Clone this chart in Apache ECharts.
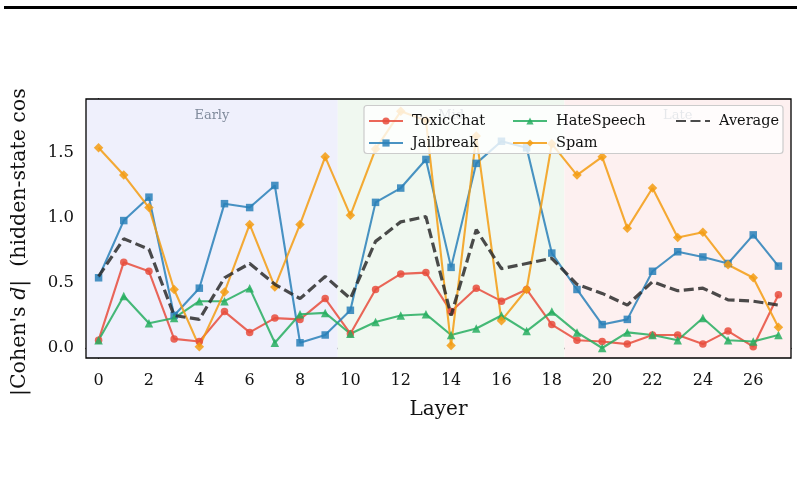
<!DOCTYPE html>
<html>
<head>
<meta charset="utf-8">
<script src="https://cdn.jsdelivr.net/npm/echarts@6/dist/echarts.min.js"></script>
<style>
  html, body { margin: 0; padding: 0; background: #fff; }
  #chart { width: 804px; height: 477px; }
</style>
</head>
<body>
<div id="chart"></div>
<script>
// ---- data ----
const layers = Array.from({length: 28}, (_, i) => String(i));
const toxicChat  = [0.06,0.66,0.59,0.07,0.05,0.28,0.12,0.23,0.22,0.38,0.11,0.45,0.57,0.58,0.28,0.46,0.36,0.45,0.18,0.06,0.05,0.03,0.10,0.10,0.03,0.13,0.01,0.41];
const jailbreak  = [0.54,0.98,1.16,0.25,0.46,1.11,1.08,1.25,0.04,0.10,0.29,1.12,1.23,1.45,0.62,1.42,1.59,1.54,0.73,0.45,0.18,0.22,0.59,0.74,0.70,0.65,0.87,0.63];
const hateSpeech = [0.06,0.40,0.19,0.23,0.36,0.36,0.46,0.04,0.26,0.27,0.11,0.20,0.25,0.26,0.10,0.15,0.25,0.13,0.28,0.12,0.00,0.12,0.10,0.06,0.23,0.06,0.05,0.10];
const spam       = [1.54,1.33,1.08,0.45,0.01,0.43,0.95,0.47,0.95,1.47,1.02,1.53,1.82,1.75,0.02,1.63,0.21,0.45,1.57,1.33,1.47,0.92,1.23,0.85,0.89,0.64,0.54,0.16];
const average    = [0.55,0.84,0.76,0.25,0.22,0.54,0.65,0.49,0.38,0.55,0.38,0.82,0.97,1.01,0.25,0.91,0.61,0.65,0.69,0.49,0.42,0.33,0.51,0.44,0.46,0.37,0.36,0.33];
const bands = [
  {name: 'Early', from: -0.5, to: 9.5},
  {name: 'Mid',   from: 9.5,  to: 18.5},
  {name: 'Late',  from: 18.5, to: 27.5}
];
// ---- styles ----
const FONT = '"DejaVu Serif", serif';
const bandColors = ['#eff0fc', '#f0f8f0', '#fdf0f0'];
const AVG_COLOR = '#2b2b2b';
const seriesDefs = [
  {name: 'ToxicChat',  data: toxicChat,  color: '#e74c3c', symbol: 'circle',   size: 7.5},
  {name: 'Jailbreak',  data: jailbreak,  color: '#2980b9', symbol: 'rect',     size: 7.5},
  {name: 'HateSpeech', data: hateSpeech, color: '#27ae60', symbol: 'triangle', size: 8.5},
  {name: 'Spam',       data: spam,       color: '#f39c12', symbol: 'diamond',  size: 9.5}
];

const G = {left: 86, top: 99, right: 13, bottom: 119};

const series = seriesDefs.map(d => ({
  name: d.name, type: 'line', data: d.data,
  symbol: d.symbol, symbolSize: d.size, showSymbol: true,
  lineStyle: {color: d.color, width: 2.1, opacity: 0.85},
  itemStyle: {color: d.color, opacity: 0.85},
  z: 3, animation: false
}));
series.push({
  name: 'Average', type: 'line', data: average, symbol: 'none',
  lineStyle: {color: AVG_COLOR, width: 3.2, type: [10, 4.5], opacity: 0.85},
  itemStyle: {color: AVG_COLOR},
  z: 4, animation: false
});
series.push({
  name: 'bands', type: 'line', xAxisIndex: 1, data: [], silent: true, z: 1,
  markArea: {
    silent: true,
    label: {show: true, position: 'insideTop', distance: 10, color: '#808b9c',
            fontFamily: FONT, fontSize: 13},
    data: bands.map((b, i) => [
      {name: b.name, xAxis: b.from, itemStyle: {color: bandColors[i]}},
      {xAxis: b.to}
    ])
  },
  animation: false
});

const colorOf = {};
seriesDefs.forEach(d => { colorOf[d.name] = d.color; });
colorOf['Average'] = AVG_COLOR;

const legendCols = [368, 512, 675];
const legendRowCenters = [118, 140];
const legendLayout = [
  ['ToxicChat', 0, 0], ['Jailbreak', 0, 1], ['HateSpeech', 1, 0], ['Spam', 1, 1], ['Average', 2, 0]
];
const legends = legendLayout.map(([n, c, r]) => ({
  data: [n], left: legendCols[c], top: legendRowCenters[r] - 4.5, padding: 0, z: 8,
  itemWidth: 34, itemHeight: 9, selectedMode: false,
  itemStyle: n === 'Average' ? {color: AVG_COLOR, opacity: 0} : {color: colorOf[n], opacity: 0.85},
  lineStyle: {color: colorOf[n], opacity: 0.85},
  textStyle: {fontFamily: FONT, fontSize: 14.5, color: '#111', padding: [0, 0, 0, 4]}
}));

const chart = echarts.init(document.getElementById('chart'), null, {renderer: 'canvas'});
chart.setOption({
  animation: false,
  backgroundColor: '#fff',
  grid: {left: G.left, top: G.top, right: G.right, bottom: G.bottom, containLabel: false},
  legend: legends,
  xAxis: [{
    type: 'category', data: layers, boundaryGap: true,
    name: 'Layer', nameLocation: 'middle', nameGap: 42,
    nameTextStyle: {fontFamily: FONT, fontSize: 20, color: '#111'},
    axisLine: {lineStyle: {color: '#000', width: 1.3}},
    axisTick: {alignWithLabel: true, interval: 1, length: 5, lineStyle: {color: '#000', width: 1.2}},
    axisLabel: {interval: 1, fontFamily: FONT, fontSize: 16, color: '#111', margin: 15},
    splitLine: {show: false}
  }, {
    type: 'value', min: -0.5, max: 27.5, show: false
  }],
  yAxis: {
    type: 'value', min: -0.077, max: 1.915, splitNumber: 4,
    axisLine: {show: true, lineStyle: {color: '#000', width: 1.3}},
    axisTick: {show: true, length: 5, lineStyle: {color: '#000', width: 1.2}},
    axisLabel: {
      fontFamily: FONT, fontSize: 16.5, color: '#111', margin: 12,
      showMinLabel: false, showMaxLabel: false,
      formatter: v => (Math.abs(v / 0.5 - Math.round(v / 0.5)) < 1e-6 ? v.toFixed(1) : '')
    },
    splitLine: {show: false}
  },
  graphic: [
    {type: 'rect', z: 6, silent: true,
     shape: {x: 364, y: 105.5, width: 419, height: 48, r: 3},
     style: {fill: 'rgba(255,255,255,0.8)', stroke: '#cccccc', lineWidth: 1.2}},
    {type: 'rect', z: 10, silent: true,
     shape: {x: G.left, y: G.top, width: 804 - G.left - G.right, height: 477 - G.top - G.bottom},
     style: {fill: null, stroke: '#000', lineWidth: 1.3}},
    {type: 'text', z: 10, silent: true, x: 20, y: 396, rotation: Math.PI / 2,
     style: {text: "|Cohen's {i|d}|  (hidden-state cosine distance)", fill: '#111',
             font: '20.5px "DejaVu Serif", serif', align: 'left', verticalAlign: 'middle',
             rich: {i: {fontStyle: 'italic', fontFamily: FONT, fontSize: 20.5, fill: '#111'}}}},
    {type: 'rect', z: 20, silent: true, shape: {x: 0, y: 0, width: 60, height: 88}, style: {fill: '#fff'}},
    {type: 'rect', z: 21, silent: true, shape: {x: 4, y: 6, width: 793, height: 3}, style: {fill: '#000'}}
  ],
  series: series
});
</script>
</body>
</html>
